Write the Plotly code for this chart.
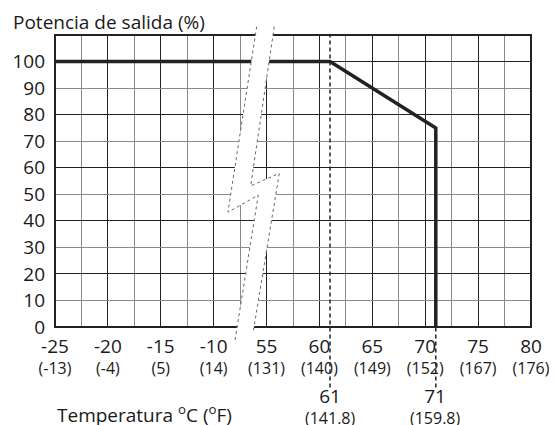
import plotly.graph_objects as go

# ---- data ----
celsius_ticks = [-25, -20, -15, -10, 55, 60, 65, 70, 75, 80]
fahrenheit_labels = ["(-13)", "(-4)", "(5)", "(14)", "(131)", "(140)", "(149)", "(152)", "(167)", "(176)"]
y_ticks = [0, 10, 20, 30, 40, 50, 60, 70, 80, 90, 100]

curve_temp_c = [-25, 61, 71, 71]
curve_power = [100, 100, 75, 0]

marker_temps = [61, 71]
marker_labels_f = ["(141.8)", "(159.8)"]

FONT = "Open Sans"
DARK = "#222222"
GREY = "#8a8a8a"


def pos(t):
    """map temperature to the broken axis (category units)"""
    return (t + 25) / 5 if t <= -10 else 4 + (t - 55) / 5


tick_pos = [pos(t) for t in celsius_ticks]
tick_text = [f"<span style='font-size:19px'>{c}</span><br>{f}" for c, f in zip(celsius_ticks, fahrenheit_labels)]

fig = go.Figure()
fig.add_trace(go.Scatter(
    x=[pos(t) for t in curve_temp_c], y=curve_power, mode="lines",
    line=dict(color=DARK, width=3.5), hoverinfo="skip", showlegend=False))
fig.add_trace(go.Scatter(x=[None], y=[None], yaxis="y2", showlegend=False, hoverinfo="skip"))

fig.update_layout(
    width=555, height=425,
    margin=dict(l=55, r=24, t=35, b=98),
    paper_bgcolor="white", plot_bgcolor="white",
    font=dict(family=FONT, size=19, color="#1a1a1a"),
    xaxis=dict(range=[0, 9], tickmode="array", tickvals=tick_pos, ticktext=tick_text,
               showgrid=True, gridcolor=DARK, gridwidth=1.2, zeroline=False, showline=False,
               ticks="", ticklabelstandoff=9, automargin=False, tickfont=dict(size=16),
               minor=dict(dtick=0.5, tick0=0, showgrid=True, gridcolor=GREY, gridwidth=1.2)),
    yaxis=dict(range=[0, 110], tickmode="array", tickvals=y_ticks,
               showgrid=True, gridcolor=GREY, gridwidth=1.2, zeroline=False, showline=False,
               ticks="", ticklabelstandoff=9, automargin=False),
    yaxis2=dict(range=[0, 110], overlaying="y", tickmode="array", tickvals=[20, 40, 60, 80, 100],
                showgrid=True, gridcolor=DARK, gridwidth=1.2, zeroline=False, showline=False,
                showticklabels=False, ticks="", automargin=False),
)

shapes = []
# frame
shapes.append(dict(type="rect", xref="paper", yref="paper", x0=0, x1=1, y0=0, y1=1,
                   line=dict(color=DARK, width=2), layer="above"))
# dashed reference lines
shapes.append(dict(type="line", xref="x", yref="paper", x0=pos(marker_temps[0]), x1=pos(marker_temps[0]),
                   y0=-0.207, y1=1, line=dict(color=DARK, width=1.5, dash="4px,3px"), layer="above"))
shapes.append(dict(type="line", xref="x", yref="paper", x0=pos(marker_temps[1]), x1=pos(marker_temps[1]),
                   y0=-0.207, y1=0, line=dict(color=DARK, width=1.5, dash="4px,3px"), layer="above"))

# axis break (lightning bolt)
break_left = [(3.813, 1.0285), (3.270, 0.3932), (3.843, 0.4515), (3.403, -0.0456)]
break_right = [(4.146, 1.0285), (3.700, 0.4834), (4.240, 0.5259), (3.753, -0.0113)]


def path(pts, close=False):
    s = "M " + " L ".join(f"{x},{y}" for x, y in pts)
    return s + (" Z" if close else "")


shapes.append(dict(type="path", xref="x", yref="paper", path=path(break_left + break_right[::-1], True),
                   fillcolor="white", line=dict(width=0), layer="above"))
for side in (break_left, break_right):
    shapes.append(dict(type="path", xref="x", yref="paper", path=path(side),
                       line=dict(color="#666666", width=1, dash="dot"), layer="above"))
fig.update_layout(shapes=shapes)

annotations = [
    dict(text="Potencia de salida (%)", xref="paper", yref="paper", x=-0.092, y=1.045,
         xanchor="left", yanchor="middle", showarrow=False, font=dict(size=19)),
    dict(text="Temperatura <sup>o</sup>C (<sup>o</sup>F)", xref="paper", yref="paper", x=0.0, y=-0.298,
         xanchor="left", yanchor="middle", showarrow=False, font=dict(size=19)),
]
for t, f in zip(marker_temps, marker_labels_f):
    annotations.append(dict(text=f"<span style='font-size:19px'>{t}</span><br>{f}", xref="x", yref="paper",
                            x=pos(t), y=-0.27, xanchor="center", yanchor="middle", showarrow=False,
                            font=dict(size=16)))
fig.update_layout(annotations=annotations)

fig.write_html("out.html", post_script="document.body.style.margin='0';",
               config={"displayModeBar": False})
